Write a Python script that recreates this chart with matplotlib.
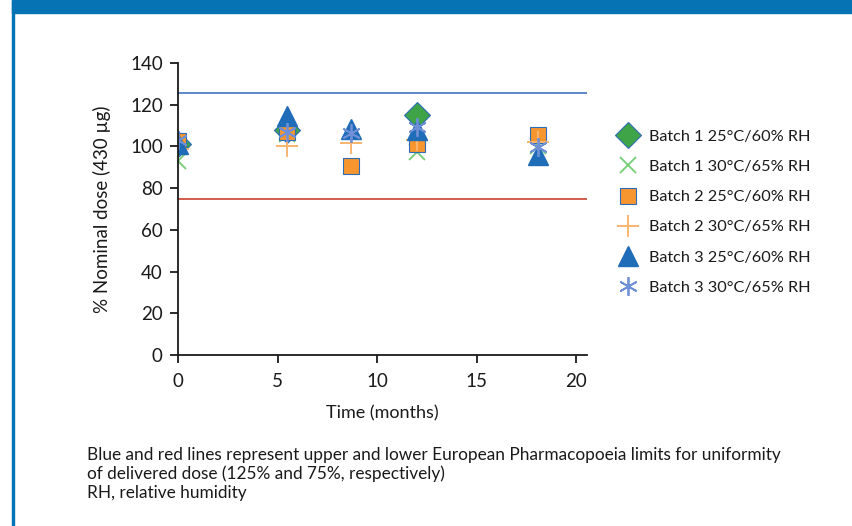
import numpy as np
import matplotlib
matplotlib.use("Agg")
import matplotlib.pyplot as plt
from matplotlib.patches import Rectangle

plt.rcParams['font.family'] = ['Lato', 'DejaVu Sans']

# time points (months)
months = [0, 5.5, 8.7, 12, 18.1]

# % nominal dose per series (nan = not measured / not shown)
b1_25 = [101, 108, np.nan, 115, np.nan]
b1_30 = [93, 106, np.nan, 97.5, 100]
b2_25 = [102.5, 107, 90.5, 101, 105.5]
b2_30 = [99, 100, 101.5, 103, 102]
b3_25 = [101, 114.5, 108.5, 108, 96]
b3_30 = [103, 107, 106.5, 109.5, 99.5]

labels = ["Batch 1 25°C/60% RH", "Batch 1 30°C/65% RH",
          "Batch 2 25°C/60% RH", "Batch 2 30°C/65% RH",
          "Batch 3 25°C/60% RH", "Batch 3 30°C/65% RH"]

upper_limit = 125.7
lower_limit = 75

fig = plt.figure(figsize=(8.53, 5.26), dpi=100)

# blue frame: top band and left rule
fig.patches.append(Rectangle((12 / 853, 1 - 13 / 526), 1, 13 / 526,
                             transform=fig.transFigure, color='#0673b5', zorder=0))
fig.patches.append(Rectangle((12 / 853, 0), 2 / 853, 1,
                             transform=fig.transFigure, color='#0673b5', zorder=0))

ax = fig.add_axes([178 / 853, 1 - 355 / 526, (587 - 178) / 853, (355 - 63) / 526])

ax.plot([0, 20.55], [upper_limit, upper_limit], color='#4472c4', lw=1.2, zorder=1)
ax.plot([0, 20.55], [lower_limit, lower_limit], color='#c8412b', lw=1.2, zorder=1)

edge = '#2e6db5'
ax.plot(months, b1_25, 'D', ms=13, mfc='#3fa447', mec=edge, mew=0.8, ls='none', label=labels[0])
ax.plot(months, b1_30, 'x', ms=11.5, mec='#7cce7c', mew=1.4, ls='none', label=labels[1])
ax.plot(months, b2_25, 's', ms=12, mfc='#f7962f', mec=edge, mew=0.8, ls='none', label=labels[2])
ax.plot(months, b2_30, '+', ms=15.5, mec='#f9b470', mew=1.4, ls='none', label=labels[3])
ax.plot(months, b3_25, '^', ms=14, mfc='#1f6cb8', mec='#1f6cb8', ls='none', label=labels[4])
ax.plot(months, b3_30, marker=(6, 2, 0), ms=13.5, mec='#6f8fd6', mew=1.3, ls='none', label=labels[5])

ax.set_xlim(0, 20.55)
ax.set_ylim(0, 140)
ax.set_xticks([0, 5, 10, 15, 20])
ax.set_yticks(range(0, 141, 20))
for s in ['top', 'right']:
    ax.spines[s].set_visible(False)
for s in ['left', 'bottom']:
    ax.spines[s].set_linewidth(1.3)
    ax.spines[s].set_color('#1a1a1a')
ax.tick_params(axis='both', length=6, width=1.3, color='#1a1a1a', labelsize=13.5,
               labelcolor='#1a1a1a')
ax.tick_params(axis='x', pad=7)
ax.tick_params(axis='y', pad=5)
ax.set_xlabel("Time (months)", fontsize=13, color='#1a1a1a', labelpad=11)
ax.set_ylabel("% Nominal dose (430 µg)", fontsize=13.5, color='#1a1a1a', labelpad=14)

fig.legend(loc='upper left', bbox_to_anchor=(604 / 853, 1 - 115 / 526), frameon=False,
           fontsize=11.7, labelspacing=0.97, handlelength=1.2, handletextpad=0.7,
           labelcolor='#1a1a1a')

notes = ("Blue and red lines represent upper and lower European Pharmacopoeia limits for uniformity\n"
         "of delivered dose (125% and 75%, respectively)\n"
         "RH, relative humidity")
fig.text(87 / 853, 1 - 447 / 526, notes, fontsize=12.4, color='#1a1a1a', va='top',
         linespacing=1.2)

fig.savefig("out.png", dpi=100)
